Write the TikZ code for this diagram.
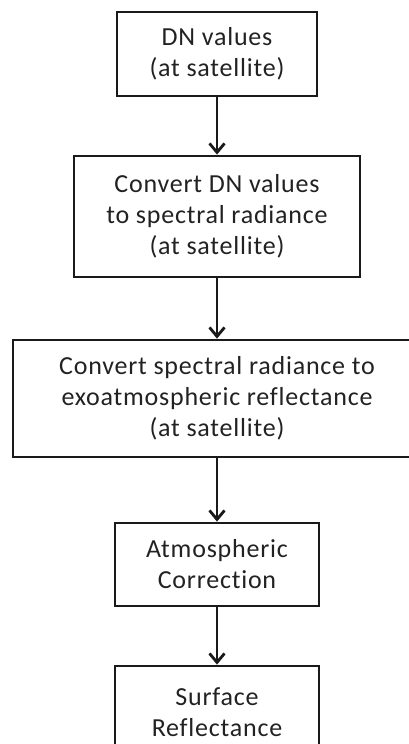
\documentclass[tikz,border=0pt]{standalone}
\usepackage{fontspec}
\setmainfont{Carlito}[LetterSpace=3, Ligatures={NoCommon,NoRare}]
\usetikzlibrary{arrows.meta}
\definecolor{ink}{HTML}{1A1A1A}
\definecolor{txt}{HTML}{222222}
\tikzset{
  stepbox/.style={draw=ink, line width=2.8pt, inner sep=0pt, align=center,
    text=txt, font=\fontsize{26}{31}\selectfont},
  flow/.style={draw=ink, line width=2.8pt,
    -{Straight Barb[length=9pt,width=15pt,line width=2.8pt]}}
}
\begin{document}
\begin{tikzpicture}[x=1pt,y=-1pt]
\useasboundingbox (0,0) rectangle (409,744);
\node[stepbox, minimum width=200pt, minimum height=84pt] (dn) at (217,54)
  {DN values\\(at satellite)};
\node[stepbox, minimum width=286pt, minimum height=121pt] (rad) at (217,216.5)
  {Convert DN values\\to spectral radiance\\(at satellite)};
\node[stepbox, minimum width=408pt, minimum height=117pt] (refl) at (217,398.5)
  {Convert spectral radiance to\\exoatmospheric reflectance\\(at satellite)};
\node[stepbox, minimum width=204pt, minimum height=83pt] (atm) at (217,564.5)
  {Atmospheric\\Correction};
\node[stepbox, minimum width=204pt, minimum height=92pt] (surf) at (217,712)
  {Surface\\Reflectance};
\draw[flow] (dn) -- (rad);
\draw[flow] (rad) -- (refl);
\draw[flow] (refl) -- (atm);
\draw[flow] (atm) -- (surf);
\end{tikzpicture}
\end{document}
